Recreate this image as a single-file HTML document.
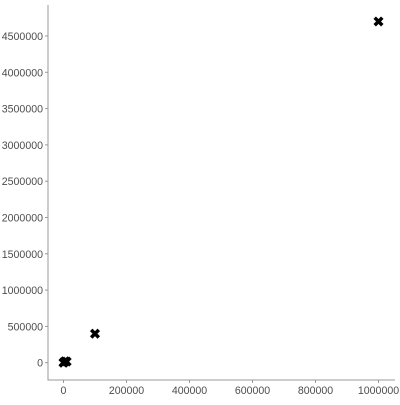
<!DOCTYPE html>
<html><head><meta charset="utf-8"><style>
html,body{margin:0;padding:0;background:#fff}
text{font-family:"Liberation Sans",sans-serif;font-size:10.6px;fill:#4d4d4d}
</style></head><body>
<svg id="chart" width="400" height="400">
<g id="axes"></g><g id="points"></g>
</svg>
<script>
const xValues=[0,1000,5000,10000,100000,1000000];
const yValues=[0,5000,20000,15000,400000,4700000];
const xTicks=[0,200000,400000,600000,800000,1000000];
const yTicks=[0,500000,1000000,1500000,2000000,2500000,3000000,3500000,4000000,4500000];
const X0=63.5,XK=(378.5-63.5)/1000000;
const Y0=362.7,YK=(362.7-36)/4500000;
const sx=v=>X0+v*XK, sy=v=>Y0-v*YK;
const NS="http://www.w3.org/2000/svg";
const ax=document.getElementById('axes'), pg=document.getElementById('points');
function mk(tag,attrs,parent){const e=document.createElementNS(NS,tag);for(const k in attrs)e.setAttribute(k,attrs[k]);parent.appendChild(e);return e;}
let l=mk('line',{x1:48,y1:5,x2:48,y2:380.5,stroke:'#999','stroke-width':1},ax);


l=mk('line',{x1:47.5,y1:380,x2:395,y2:380,stroke:'#999','stroke-width':1},ax);


yTicks.forEach(v=>{
 const y=sy(v);
 const t=mk('line',{x1:45,y1:y,x2:48,y2:y,stroke:'#999'},ax);
 
 
 const tx=mk('text',{x:43,y:y+4,'text-anchor':'end'},ax);tx.textContent=v;
 
 
});
xTicks.forEach(v=>{
 const x=sx(v);
 const t=mk('line',{x1:x,y1:380,x2:x,y2:383,stroke:'#999'},ax);
 
 
 const tx=mk('text',{x:x,y:394,'text-anchor':'middle'},ax);tx.textContent=v;
 
 
});
xValues.forEach((v,i)=>{
 const x=sx(v),y=sy(yValues[i]);
 const g=mk('g',{},pg);
 
 
 mk('line',{x1:x-3.8,y1:y-3.8,x2:x+3.8,y2:y+3.8,stroke:'#000','stroke-width':3.5},g);
 mk('line',{x1:x-3.8,y1:y+3.8,x2:x+3.8,y2:y-3.8,stroke:'#000','stroke-width':3.5},g);
});
</script>
</body></html>
